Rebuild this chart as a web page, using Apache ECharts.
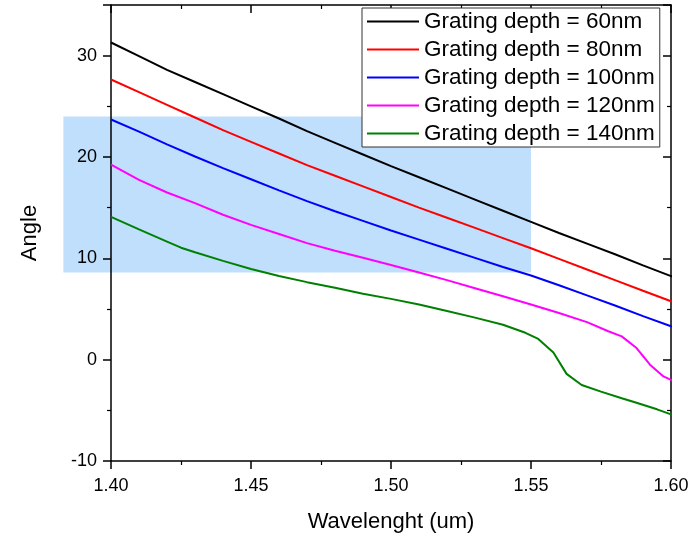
<!DOCTYPE html>
<html lang="en">
<head>
	<meta charset="UTF-8">
	<title>Grating depth</title>
	<script src="https://cdn.jsdelivr.net/npm/echarts@6/dist/echarts.min.js"></script>
</head>
<body style="margin:0">
	<div id="main" style="width: 693px; height: 535px;"></div>
	<script type="text/javascript">
	// wavelength (um) shared by the three smooth curves
	var wlA = [1.40, 1.41, 1.42, 1.43, 1.44, 1.45, 1.46, 1.47, 1.48, 1.49, 1.50,
		1.51, 1.52, 1.53, 1.54, 1.55, 1.56, 1.57, 1.58, 1.59, 1.60, 1.6025];
	var angle60 = [31.3, 29.95, 28.6, 27.4, 26.2, 25.0, 23.8, 22.55, 21.4, 20.25, 19.1,
		18.0, 16.9, 15.8, 14.7, 13.6, 12.5, 11.45, 10.4, 9.3, 8.25, 8.0];
	var angle80 = [27.65, 26.4, 25.15, 23.9, 22.65, 21.5, 20.35, 19.2, 18.15, 17.1, 16.05,
		15.0, 14.0, 13.0, 12.0, 11.0, 9.95, 8.9, 7.85, 6.8, 5.77, 5.5];
	var angle100 = [23.7, 22.5, 21.25, 20.05, 18.9, 17.8, 16.7, 15.65, 14.65, 13.7, 12.75,
		11.85, 10.95, 10.05, 9.15, 8.3, 7.35, 6.35, 5.35, 4.3, 3.3, 3.1];

	var wl120 = [1.40, 1.41, 1.42, 1.43, 1.44, 1.45, 1.46, 1.47, 1.48, 1.49, 1.50,
		1.51, 1.52, 1.53, 1.54, 1.55, 1.56, 1.57, 1.5776, 1.5824, 1.5877, 1.5925, 1.5973, 1.60, 1.6025];
	var angle120 = [19.25, 17.75, 16.5, 15.45, 14.3, 13.3, 12.4, 11.5, 10.75, 10.05, 9.35,
		8.6, 7.85, 7.05, 6.25, 5.45, 4.6, 3.7, 2.8, 2.3, 1.15, -0.5, -1.65, -2.0, -2.2];

	var wl140 = [1.40, 1.41, 1.42, 1.425, 1.43, 1.44, 1.45, 1.46, 1.47, 1.48, 1.49, 1.50,
		1.51, 1.52, 1.53, 1.54, 1.548, 1.5526, 1.558, 1.5627, 1.5681, 1.575, 1.5824, 1.5871, 1.595, 1.60, 1.6025];
	var angle140 = [14.1, 12.85, 11.65, 11.05, 10.6, 9.75, 8.95, 8.25, 7.65, 7.1, 6.5, 6.0,
		5.45, 4.8, 4.15, 3.45, 2.65, 2.05, 0.7, -1.4, -2.5, -3.15, -3.8, -4.2, -4.9, -5.4, -5.6];

	var names = ['Grating depth = 60nm', 'Grating depth = 80nm', 'Grating depth = 100nm',
		'Grating depth = 120nm', 'Grating depth = 140nm'];
	var colors = ['#000000', '#ff0000', '#0000ff', '#ff00ff', '#008000'];

	// shaded band: [x0, x1] and [y0, y1] in data units
	var shadeX = [1.383, 1.55];
	var shadeY = [8.6, 24];

	function pairs(xs, ys) {
		return xs.map(function (x, i) { return [x, ys[i]]; });
	}

	var font = "'Liberation Sans', Arial, sans-serif";
	var lineSets = [
		pairs(wlA, angle60), pairs(wlA, angle80), pairs(wlA, angle100),
		pairs(wl120, angle120), pairs(wl140, angle140)
	];

	var series = [{
		type: 'custom',
		name: 'band',
		clip: false,
		z: -1,
		silent: true,
		data: [[shadeX[0], shadeY[1], shadeX[1], shadeY[0]]],
		renderItem: function (params, api) {
			var p0 = api.coord([api.value(0), api.value(1)]);
			var p1 = api.coord([api.value(2), api.value(3)]);
			return {
				type: 'rect',
				shape: { x: p0[0], y: p0[1], width: p1[0] - p0[0], height: p1[1] - p0[1] },
				style: { fill: '#bfdffc' }
			};
		}
	}];
	lineSets.forEach(function (d, i) {
		series.push({
			name: names[i],
			type: 'line',
			data: d,
			symbol: 'none',
			clip: false,
			z: 3,
			lineStyle: { color: colors[i], width: 2 },
			itemStyle: { color: colors[i] }
		});
	});

	var axisCommon = {
		axisLine: { show: true, onZero: false, lineStyle: { color: '#000', width: 1.5 } },
		splitLine: { show: false },
		minorTick: { show: true, splitNumber: 2, length: 4, lineStyle: { color: '#000', width: 1.2 } },
		axisTick: { length: 8, lineStyle: { color: '#000', width: 1.5 } }
	};

	var option = {
		animation: false,
		grid: { left: 111, right: 22, top: 5, bottom: 74, outerBoundsMode: 'none' },
		legend: {
			data: names,
			orient: 'vertical',
			left: 362,
			top: 8,
			icon: 'rect',
			itemWidth: 52,
			itemHeight: 2,
			itemGap: 5,
			padding: [2, 5, 2, 5],
			backgroundColor: '#fff',
			borderColor: '#333',
			borderWidth: 1,
			borderRadius: 0,
			textStyle: { fontFamily: font, fontSize: 22.5, color: '#000', lineHeight: 23 }
		},
		xAxis: [Object.assign({}, axisCommon, {
			type: 'value', min: 1.4, max: 1.6, interval: 0.05, position: 'bottom',
			name: 'Wavelenght (um)', nameLocation: 'middle', nameGap: 50,
			nameTextStyle: { fontFamily: font, fontSize: 22, color: '#000' },
			axisLabel: { fontFamily: font, fontSize: 18, color: '#000', margin: 16,
				formatter: function (v) { return v.toFixed(2); } }
		}), Object.assign({}, axisCommon, {
			type: 'value', min: 1.4, max: 1.6, interval: 0.05, position: 'top',
			axisTick: { inside: true, length: 8, lineStyle: { color: '#000', width: 1.5 } },
			axisLabel: { show: false }
		})],
		yAxis: [Object.assign({}, axisCommon, {
			type: 'value', min: -10, max: 35, interval: 10, position: 'left',
			name: 'Angle', nameLocation: 'middle', nameGap: 70,
			nameTextStyle: { fontFamily: font, fontSize: 22, color: '#000' },
			axisLabel: { fontFamily: font, fontSize: 18, color: '#000', margin: 14,
				showMaxLabel: false, padding: [4, 0, 0, 0] }
		}), Object.assign({}, axisCommon, {
			type: 'value', min: -10, max: 35, interval: 10, position: 'right',
			axisTick: { inside: true, length: 8, lineStyle: { color: '#000', width: 1.5 } },
			axisLabel: { show: false }
		})],
		series: series
	};

	var chart = echarts.init(document.getElementById('main'));
	chart.setOption(option);
	</script>
</body>
</html>
